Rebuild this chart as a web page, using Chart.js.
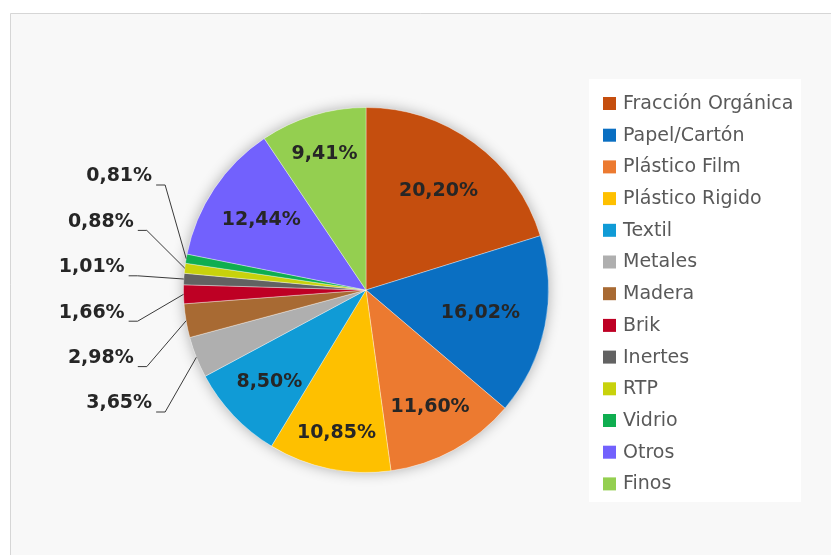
<!DOCTYPE html>
<html lang="es">

<head>
  <meta charset="UTF-8" />
  <title>Composición de residuos</title>
  <style>
    body { margin: 0; background: #ffffff; }
    canvas { display: block; }
  </style>
</head>

<body>
  <canvas id="chart" width="831" height="555"></canvas>

  <script src="https://cdn.jsdelivr.net/npm/chart.js@4.4.1/dist/chart.umd.min.js"></script>
  <script>
    // datos del gráfico
    const categorias = [
      "Fracción Orgánica", "Papel/Cartón", "Plástico Film", "Plástico Rigido",
      "Textil", "Metales", "Madera", "Brik", "Inertes", "RTP", "Vidrio", "Otros", "Finos"
    ];
    const porcentajes = [20.20, 16.02, 11.60, 10.85, 8.50, 3.65, 2.98, 1.66, 1.01, 0.88, 0.81, 12.44, 9.41];
    const colores = [
      "#C54E0E", "#0A6FC2", "#EC7A30", "#FEC000", "#109BD6", "#AFAFAF", "#A86A33",
      "#BE0024", "#626262", "#C8D20C", "#0FAE50", "#7261FD", "#94CF50"
    ];
    // distancia de cada etiqueta interior al centro (fracción del radio), como en el original
    const radioEtiqueta = [0.67, 0.64, 0.73, 0.8, 0.73, 0, 0, 0, 0, 0, 0, 0.69, 0.78];

    const fmt = v => v.toFixed(2).replace(".", ",") + "%";

    // fondo, borde y sombra del pastel
    const fondo = {
      id: "fondo",
      beforeDraw(chart) {
        const ctx = chart.ctx;
        ctx.save();
        ctx.fillStyle = "#ffffff";
        ctx.fillRect(0, 0, chart.width, chart.height);
        ctx.fillStyle = "#f8f8f8";
        ctx.fillRect(10, 13, chart.width - 10, chart.height - 13);
        ctx.strokeStyle = "#d6d6d6";
        ctx.lineWidth = 1;
        ctx.beginPath();
        ctx.moveTo(10.5, chart.height);
        ctx.lineTo(10.5, 13.5);
        ctx.lineTo(chart.width, 13.5);
        ctx.stroke();
        // caja de la leyenda
        ctx.fillStyle = "#ffffff";
        ctx.fillRect(589, 79, 212, 423);
        ctx.restore();
      },
      beforeDatasetsDraw(chart) {
        const arc = chart.getDatasetMeta(0).data[0];
        if (!arc) return;
        const ctx = chart.ctx;
        ctx.save();
        ctx.shadowColor = "rgba(0,0,0,0.3)";
        ctx.shadowBlur = 14;
        ctx.fillStyle = "#f8f8f8";
        ctx.beginPath();
        ctx.arc(arc.x, arc.y, arc.outerRadius, 0, Math.PI * 2);
        ctx.fill();
        ctx.restore();
      }
    };

    // etiquetas de datos y leyenda
    const etiquetas = {
      id: "etiquetas",
      afterDatasetsDraw(chart) {
        const ctx = chart.ctx;
        const meta = chart.getDatasetMeta(0);
        const valores = chart.data.datasets[0].data;
        ctx.save();
        ctx.font = "bold 19px 'DejaVu Sans'";
        ctx.fillStyle = "#262626";
        ctx.textBaseline = "middle";

        let pequenos = [];
        meta.data.forEach((arc, i) => {
          const mid = (arc.startAngle + arc.endAngle) / 2;
          const r = arc.outerRadius;
          if (valores[i] >= 5) {
            const f = radioEtiqueta[i] || 0.7;
            ctx.textAlign = "center";
            ctx.fillText(fmt(valores[i]), arc.x + Math.cos(mid) * r * f, arc.y + Math.sin(mid) * r * f);
          } else {
            pequenos.push({ i, px: arc.x + Math.cos(mid) * r, py: arc.y + Math.sin(mid) * r, cx: arc.x, cy: arc.y, r });
          }
        });

        // etiquetas exteriores apiladas a la izquierda
        pequenos.sort((a, b) => a.py - b.py);
        const paso = 45.4;
        ctx.strokeStyle = "#3a3a3a";
        ctx.lineWidth = 1;
        pequenos.forEach((p, k) => {
          const dy = (k - (pequenos.length - 1) / 2) * paso;
          const ly = p.cy + dy;
          const rx = p.cx - p.r - 60 + dy * dy / 450;
          ctx.textAlign = "right";
          ctx.fillText(fmt(valores[p.i]), rx, ly);
          ctx.beginPath();
          ctx.moveTo(rx + 4, ly + 8.5);
          ctx.lineTo(rx + 13, ly + 8.5);
          ctx.lineTo(p.px, p.py);
          ctx.stroke();
        });

        // leyenda
        ctx.font = "19px 'DejaVu Sans'";
        ctx.textAlign = "left";
        chart.data.labels.forEach((lab, i) => {
          const y = 103 + i * 31.7;
          ctx.fillStyle = chart.data.datasets[0].backgroundColor[i];
          ctx.fillRect(603, y - 6, 13, 13);
          ctx.fillStyle = "#595959";
          ctx.fillText(lab, 623, y + 1);
        });
        ctx.restore();
      }
    };

    new Chart(document.getElementById("chart"), {
      type: "pie",
      data: {
        labels: categorias,
        datasets: [{
          data: porcentajes,
          backgroundColor: colores,
          borderColor: "rgba(255,255,255,0.35)",
          borderWidth: 1
        }]
      },
      options: {
        responsive: false,
        animation: false,
        layout: { padding: { left: 183, right: 282, top: 107, bottom: 82 } },
        plugins: {
          legend: { display: false },
          tooltip: { enabled: false }
        }
      },
      plugins: [fondo, etiquetas]
    });
  </script>
</body>

</html>
